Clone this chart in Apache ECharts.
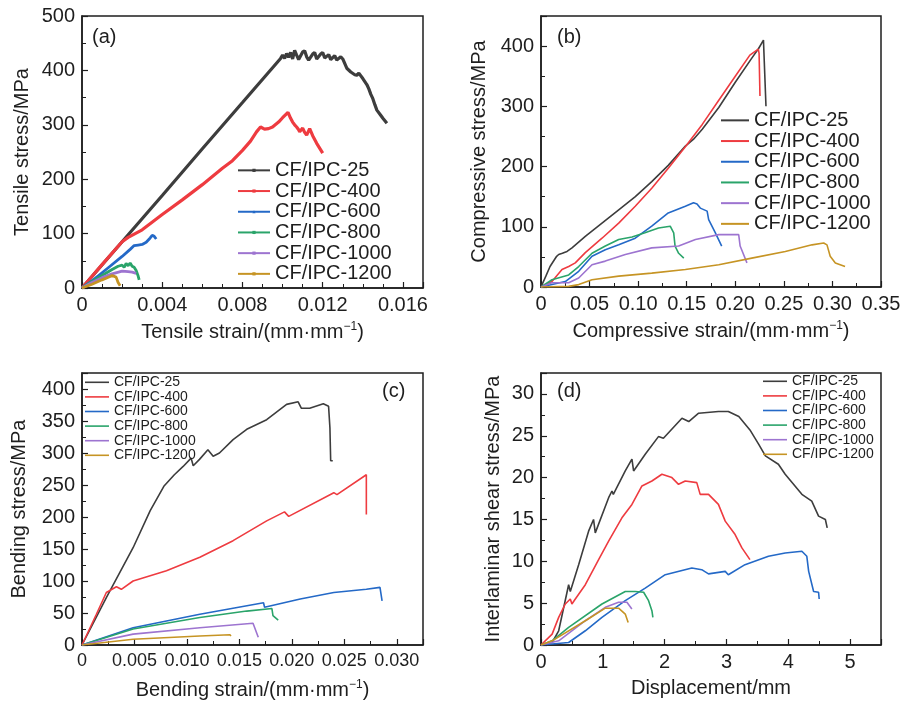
<!DOCTYPE html>
<html>
<head>
<meta charset="utf-8">
<script src="https://cdn.jsdelivr.net/npm/echarts@6/dist/echarts.min.js"></script>
<style>
  html, body { margin: 0; padding: 0; background: #fff; }
  #chart { width: 904px; height: 702px; }
</style>
</head>
<body>
<div id="chart"></div>
<script>
// 样品名称
var names = ['CF/IPC-25', 'CF/IPC-400', 'CF/IPC-600', 'CF/IPC-800', 'CF/IPC-1000', 'CF/IPC-1200'];
var colors = ['#3d3d3d', '#ee3b40', '#2469c7', '#2aa46a', '#9d74d0', '#c69424'];

// (a) 拉伸 应变-应力
var tensile25 = [[0,0],[0.002,85],[0.004,170],[0.006,256],[0.008,341],[0.0099,422],[0.0100,428],[0.0101,422],[0.0102,431],[0.0103,424],[0.0104,433],[0.0105,421],[0.0106,437],[0.0107,428],[0.0108,420],[0.0110,434],[0.0111,436],[0.0112,425],[0.0113,419],[0.0115,430],[0.0116,433],[0.0117,421],[0.0119,430],[0.0120,433],[0.0121,423],[0.0123,429],[0.0124,420],[0.0126,427],[0.0127,419],[0.0129,425],[0.0130,421],[0.0132,404],[0.0134,397],[0.0136,392],[0.0137,391],[0.0138,395],[0.0140,385],[0.0142,374],[0.0143,366],[0.0144,356],[0.0145,348],[0.0146,337],[0.0147,327],[0.0149,317],[0.0150,312],[0.0152,303]];
var tensile400 = [[0,0],[0.001,43],[0.002,85],[0.0023,93],[0.003,107],[0.004,135],[0.005,162],[0.006,190],[0.007,220],[0.0075,234],[0.008,253],[0.0084,270],[0.0087,287],[0.0089,296],[0.0091,292],[0.0093,293],[0.0095,296],[0.0098,305],[0.0100,313],[0.01027,323],[0.0104,312],[0.0105,305],[0.0106,300],[0.0107,296],[0.0108,291],[0.01085,287],[0.0110,294],[0.0111,286],[0.0112,281],[0.01135,293],[0.0115,280],[0.0117,266],[0.0119,254],[0.0120,248]];
var tensile600 = [[0,0],[0.0005,13],[0.001,28],[0.0014,40],[0.002,58],[0.0024,71],[0.0026,78],[0.0028,79],[0.003,80],[0.0032,84],[0.0034,92],[0.0035,97],[0.0036,95],[0.0037,90]];
var tensile800 = [[0,0],[0.0005,12],[0.001,23],[0.0015,34],[0.0018,40],[0.002,42],[0.0021,38],[0.0022,45],[0.0023,41],[0.0024,46],[0.0025,40],[0.0026,38],[0.0027,32],[0.0028,22],[0.00285,15]];
var tensile1000 = [[0,0],[0.0005,10],[0.001,19],[0.0015,26],[0.002,31],[0.0023,30],[0.0025,29],[0.0027,27]];
var tensile1200 = [[0,0],[0.0005,7],[0.001,15],[0.0014,21],[0.0015,23],[0.0017,20],[0.0018,10],[0.0019,4]];

// (b) 压缩
var comp25 = [[0,0],[0.005,18],[0.0093,34],[0.0161,51],[0.0182,54],[0.022,56],[0.0268,59],[0.0319,65],[0.0456,84],[0.0628,106],[0.08,128],[0.0971,150],[0.114,175],[0.131,202],[0.1486,234],[0.1568,245],[0.166,262],[0.183,298],[0.2,340],[0.217,380],[0.224,396],[0.229,410],[0.2305,410],[0.2316,300]];
var comp400 = [[0,0],[0.0113,9],[0.0216,29],[0.0285,34],[0.0353,40],[0.0456,57],[0.0628,81],[0.08,106],[0.097,134],[0.114,164],[0.131,197],[0.1486,233],[0.166,270],[0.183,310],[0.2,350],[0.215,385],[0.2237,395],[0.2245,388],[0.2254,317]];
var comp600 = [[0,0],[0.0113,4],[0.025,9],[0.0388,26],[0.0525,51],[0.0662,62],[0.08,70],[0.097,81],[0.114,101],[0.131,123],[0.1486,134],[0.157,140],[0.1606,138],[0.164,131],[0.171,126],[0.1726,112],[0.1795,90],[0.186,68]];
var comp800 = [[0,0],[0.0113,12],[0.0285,20],[0.0388,34],[0.0525,56],[0.0662,68],[0.08,79],[0.0937,83],[0.107,90],[0.121,98],[0.133,101],[0.1366,90],[0.138,68],[0.1417,56],[0.147,48]];
var comp1000 = [[0,0],[0.0113,7],[0.0285,7],[0.0388,15],[0.0525,37],[0.0662,43],[0.0868,54],[0.114,65],[0.1417,68],[0.159,79],[0.183,87],[0.2035,87],[0.205,68],[0.212,40]];
var comp1200 = [[0,0],[0.0285,1],[0.0388,4],[0.0525,12],[0.08,18],[0.114,23],[0.1486,29],[0.183,37],[0.217,48],[0.2515,59],[0.279,70],[0.291,73],[0.2944,70],[0.2977,51],[0.303,40],[0.313,34]];

// (c) 弯曲
var bend25 = [[0,0],[0.00232,74],[0.00487,152],[0.0065,210],[0.0078,248],[0.0088,266],[0.00964,279],[0.0104,292],[0.0106,280],[0.0112,290],[0.012,305],[0.0125,295],[0.0131,300],[0.0144,321],[0.0157,337],[0.0176,352],[0.0195,376],[0.0206,380],[0.0209,370],[0.0217,370],[0.023,377],[0.0235,373],[0.02363,339],[0.0237,288],[0.0239,288]];
var bend400 = [[0,0],[0.00137,48],[0.00232,82],[0.00328,91],[0.00375,87],[0.00487,100],[0.00805,116],[0.01123,137],[0.0144,163],[0.0176,194],[0.0193,208],[0.0197,201],[0.024,238],[0.0243,235],[0.0271,266],[0.0271,204]];
var bend600 = [[0,0],[0.00487,27],[0.01123,48],[0.0173,66],[0.0174,59],[0.0208,72],[0.024,82],[0.0271,87],[0.0284,90],[0.0286,69]];
var bend800 = [[0,0],[0.00487,25],[0.01123,43],[0.0157,53],[0.0181,57],[0.0182,46],[0.0187,39]];
var bend1000 = [[0,0],[0.00487,17],[0.01123,27],[0.0163,34],[0.0168,12]];
var bend1200 = [[0,0],[0.00487,9],[0.01123,14],[0.0141,16],[0.0142,14]];

// (d) 层间剪切
var shear25 = [[0,0],[0.18,0.3],[0.286,1.7],[0.447,7.2],[0.474,6.4],[0.609,9.6],[0.77,13.6],[0.85,15],[0.878,13.4],[1.094,17.6],[1.148,18.4],[1.17,18],[1.363,20.8],[1.471,22.2],[1.498,20.8],[1.686,22.8],[1.9,24.9],[1.98,24.7],[2.28,27.1],[2.39,26.7],[2.55,27.7],[2.87,27.9],[3.03,27.9],[3.2,27.3],[3.38,25.7],[3.52,24],[3.63,22.6],[3.84,21.6],[3.95,20.4],[4.22,18],[4.38,17.2],[4.49,15.4],[4.6,15],[4.63,14]];
var shear400 = [[0,0],[0.18,1.3],[0.286,3.3],[0.393,4.9],[0.474,5.5],[0.5,4.9],[0.555,5.5],[0.717,7.2],[0.932,10.2],[1.094,12.4],[1.309,15.2],[1.471,16.8],[1.633,19],[1.794,19.6],[1.956,20.4],[2.117,20],[2.225,19.2],[2.333,19.6],[2.52,19.4],[2.575,18],[2.71,18],[2.87,16.8],[2.98,14.8],[3.14,13.2],[3.25,11.6],[3.38,10.2]];
var shear600 = [[0,0],[0.447,0.3],[0.717,1.7],[0.986,3.3],[1.363,5.3],[1.686,6.8],[2.01,8.4],[2.44,9.2],[2.6,9],[2.71,8.5],[2.98,8.8],[3.03,8.4],[3.3,9.6],[3.68,10.6],[3.95,11],[4.22,11.2],[4.3,10.6],[4.33,8.8],[4.41,6.4],[4.49,6.3],[4.5,5.5]];
var shear800 = [[0,0],[0.18,0.5],[0.447,2.1],[0.986,4.9],[1.363,6.4],[1.525,6.4],[1.66,6.3],[1.74,5.3],[1.794,4.1],[1.81,3.3]];
var shear1000 = [[0,0],[0.286,0.5],[0.717,2.9],[1.04,4.5],[1.255,5.1],[1.39,5.1],[1.47,4.3]];
var shear1200 = [[0,0],[0.18,0.5],[0.717,2.9],[1.04,4.4],[1.255,4.4],[1.363,3.7],[1.41,2.7]];

var panels = [
    {key: 'a', data: [tensile25, tensile400, tensile600, tensile800, tensile1000, tensile1200]},
    {key: 'b', data: [comp25, comp400, comp600, comp800, comp1000, comp1200]},
    {key: 'c', data: [bend25, bend400, bend600, bend800, bend1000, bend1200]},
    {key: 'd', data: [shear25, shear400, shear600, shear800, shear1000, shear1200]}
];

var FONT = '"Liberation Sans", Arial, sans-serif';
var ink = '#1e1e1e';

// 只显示整刻度
function fmt(step, dec) {
    return function (v) {
        var k = v / step;
        if (Math.abs(k - Math.round(k)) > 1e-6) return '';
        if (v === 0) return '0';
        return dec > 0 ? v.toFixed(dec) : String(Math.round(v));
    };
}

function axisBase(idx, opt) {
    return {
        type: 'value',
        gridIndex: idx,
        min: 0,
        max: opt.max,
        interval: opt.interval,
        name: opt.name,
        nameLocation: 'middle',
        nameGap: opt.nameGap,
        nameTextStyle: {
            fontFamily: FONT, fontSize: 20, color: ink,
            rich: {sup: {fontFamily: FONT, fontSize: 12, color: ink, padding: [0, 0, 11, 0]}}
        },
        axisLine: {show: true, lineStyle: {color: '#1e1e1e', width: 1.5}},
        axisTick: {show: true, inside: true, length: 6, lineStyle: {color: '#1e1e1e', width: 1.2}},
        minorTick: {show: true, splitNumber: opt.minor, length: 4, lineStyle: {color: '#1e1e1e', width: 1}},
        splitLine: {show: false},
        axisLabel: {
            fontFamily: FONT, fontSize: opt.labelSize || 20, color: ink, margin: opt.margin || 7,
            formatter: fmt(opt.interval, opt.dec), showMinLabel: true
        }
    };
}

var grids = [
    {left: 82, top: 16, width: 341, height: 272},
    {left: 541, top: 16, width: 340, height: 271},
    {left: 82, top: 373, width: 341, height: 272},
    {left: 541, top: 373, width: 340, height: 272}
];
grids.forEach(function (g) {
    g.show = true; g.borderColor = '#1e1e1e'; g.borderWidth = 1.5; g.containLabel = false;
});

var xAxes = [
    axisBase(0, {max: 0.017, interval: 0.004, minor: 4, dec: 3, name: 'Tensile strain/(mm·mm{sup|−1})', nameGap: 33}),
    axisBase(1, {max: 0.35, interval: 0.05, minor: 2, dec: 2, name: 'Compressive strain/(mm·mm{sup|−1})', nameGap: 33}),
    axisBase(2, {max: 0.0325, interval: 0.005, minor: 2, dec: 3, labelSize: 18, name: 'Bending strain/(mm·mm{sup|−1})', nameGap: 34}),
    axisBase(3, {max: 5.5, interval: 1, minor: 2, dec: 0, name: 'Displacement/mm', nameGap: 33})
];
var yAxes = [
    axisBase(0, {max: 500, interval: 100, minor: 2, dec: 0, name: 'Tensile stress/MPa', nameGap: 50}),
    axisBase(1, {max: 450, interval: 100, minor: 2, dec: 0, name: 'Compressive stress/MPa', nameGap: 52}),
    axisBase(2, {max: 425, interval: 50, minor: 2, dec: 0, name: 'Bending stress/MPa', nameGap: 53}),
    axisBase(3, {max: 32.5, interval: 5, minor: 2, dec: 0, name: 'Interlaminar shear stress/MPa', nameGap: 38})
];

var series = [];
panels.forEach(function (p, pi) {
    p.data.forEach(function (d, i) {
        var isA = pi === 0;
        series.push({
            name: p.key + '|' + names[i],
            type: 'line',
            xAxisIndex: pi,
            yAxisIndex: pi,
            data: d,
            showSymbol: false,
            symbol: isA ? (i === 2 ? 'triangle' : 'rect') : 'none',
            symbolSize: 4,
            lineStyle: {color: colors[i], width: isA ? (i < 2 ? 3.2 : 2.8) : 1.6},
            itemStyle: {color: colors[i]},
            silent: true
        });
    });
});

function legendFor(key, left, top, w, h, size, pitch, icon) {
    var lg = {
        orient: 'vertical',
        left: left,
        top: top,
        itemWidth: w,
        itemHeight: h,
        itemGap: 0,
        padding: 0,
        data: names.map(function (n) { return key + '|' + n; }),
        formatter: function (n) { return n.split('|')[1]; },
        textStyle: {fontFamily: FONT, fontSize: size, color: ink, lineHeight: pitch},
        selectedMode: false
    };
    if (icon) lg.icon = icon;
    return lg;
}

var myChart = echarts.init(document.getElementById('chart'));
var option = {
    animation: false,
    backgroundColor: '#fff',
    grid: grids,
    xAxis: xAxes,
    yAxis: yAxes,
    legend: [
        legendFor('a', 237, 160, 32, 4, 20, 20.7),
        legendFor('b', 721, 110, 28, 2, 20, 20.7, 'rect'),
        legendFor('c', 85, 375, 24, 1.6, 14, 14.6, 'rect'),
        legendFor('d', 763, 374, 24, 1.6, 14, 14.6, 'rect')
    ],
    graphic: [
        {type: 'text', left: 92, top: 27, style: {text: '(a)', font: '20px ' + FONT, fill: ink}},
        {type: 'text', left: 557, top: 27, style: {text: '(b)', font: '20px ' + FONT, fill: ink}},
        {type: 'text', left: 382, top: 381, style: {text: '(c)', font: '20px ' + FONT, fill: ink}},
        {type: 'text', left: 557, top: 381, style: {text: '(d)', font: '20px ' + FONT, fill: ink}}
    ],
    series: series
};
myChart.setOption(option);
</script>
</body>
</html>
